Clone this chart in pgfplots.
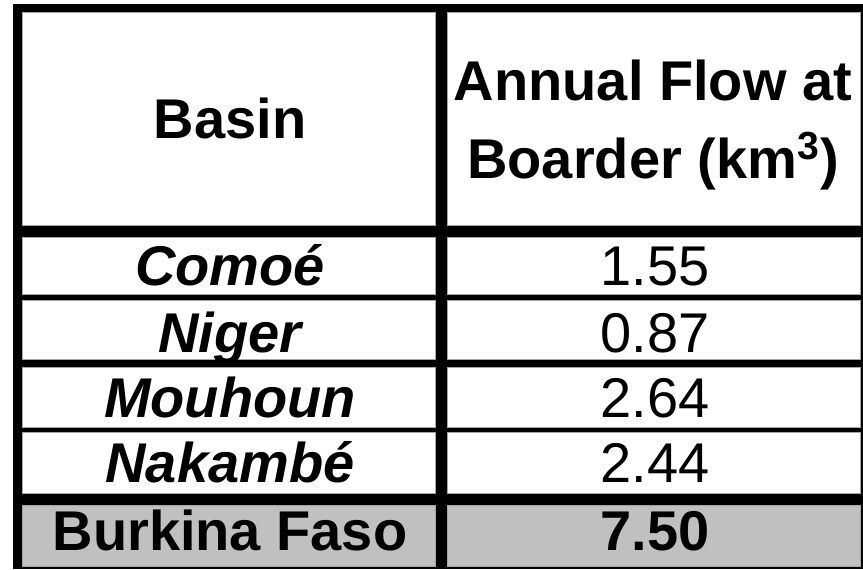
\documentclass[border=0pt]{standalone}
\usepackage{fontspec}
\setmainfont{Liberation Sans}
\usepackage{pgfplots}
\pgfplotsset{compat=1.18}
\definecolor{cellgray}{RGB}{165,165,165}
\definecolor{totalfill}{RGB}{192,192,192}

% one table cell: x0 y0 x1 y1 fill (pixel coordinates, y downwards)
\newcommand{\cell}[5]{%
  \addplot[fill=#5, draw=cellgray, line width=0.5pt]
    coordinates {(#1,#2) (#3,#2) (#3,#4) (#1,#4)} -- cycle;}

\begin{document}
\begin{tikzpicture}
\begin{axis}[
    x=0.5pt, y=0.5pt,
    y dir=reverse,
    xmin=0, xmax=863, ymin=0, ymax=569,
    hide axis,
    clip=true,
    nodes near coords align=center,
    every node near coord/.append style={anchor=base, inner sep=0pt},
  ]
  % white page and black frame behind the cells
  \addplot[fill=white, draw=none]
    coordinates {(0,0) (863,0) (863,569) (0,569)} -- cycle;
  \addplot[fill=black, draw=none]
    coordinates {(12.5,4) (863,4) (863,569) (12.5,569)} -- cycle;
  % header
  \cell{22}{12}{435}{225}{white}
  \cell{447}{12}{860}{225}{white}
  % basins
  \cell{22}{237}{435}{294}{white}
  \cell{447}{237}{860}{294}{white}
  \cell{22}{300}{435}{359}{white}
  \cell{447}{300}{860}{359}{white}
  \cell{22}{367}{435}{427}{white}
  \cell{447}{367}{860}{427}{white}
  \cell{22}{432}{435}{493}{white}
  \cell{447}{432}{860}{493}{white}
  % total
  \cell{22}{505}{435}{566}{totalfill}
  \cell{447}{505}{860}{566}{totalfill}

  % header text
  \addplot[only marks, mark=none, point meta=explicit symbolic, nodes near coords,
    every node near coord/.append style={font=\fontsize{28}{34}\selectfont\bfseries}]
    coordinates {
      (230,138) [Basin]
      (653,100) [Annual Flow at]
      (653,178) [Boarder (km\textsuperscript{3})]
    };
  % basin names
  \addplot[only marks, mark=none, point meta=explicit symbolic, nodes near coords,
    every node near coord/.append style={font=\fontsize{28}{34}\selectfont\bfseries\itshape}]
    coordinates {
      (230,285) [Comoé]
      (230,352) [Niger]
      (230,417) [Mouhoun]
      (230,482) [Nakambé]
    };
  % annual flow values
  \addplot[only marks, mark=none, point meta=explicit symbolic, nodes near coords,
    every node near coord/.append style={font=\fontsize{28}{34}\selectfont}]
    coordinates {
      (655,285) [1.55]
      (655,352) [0.87]
      (655,417) [2.64]
      (655,482) [2.44]
    };
  % total row
  \addplot[only marks, mark=none, point meta=explicit symbolic, nodes near coords,
    every node near coord/.append style={font=\fontsize{28}{34}\selectfont\bfseries}]
    coordinates {
      (230,550) [Burkina Faso]
      (655,550) [7.50]
    };
\end{axis}
\end{tikzpicture}
\end{document}
